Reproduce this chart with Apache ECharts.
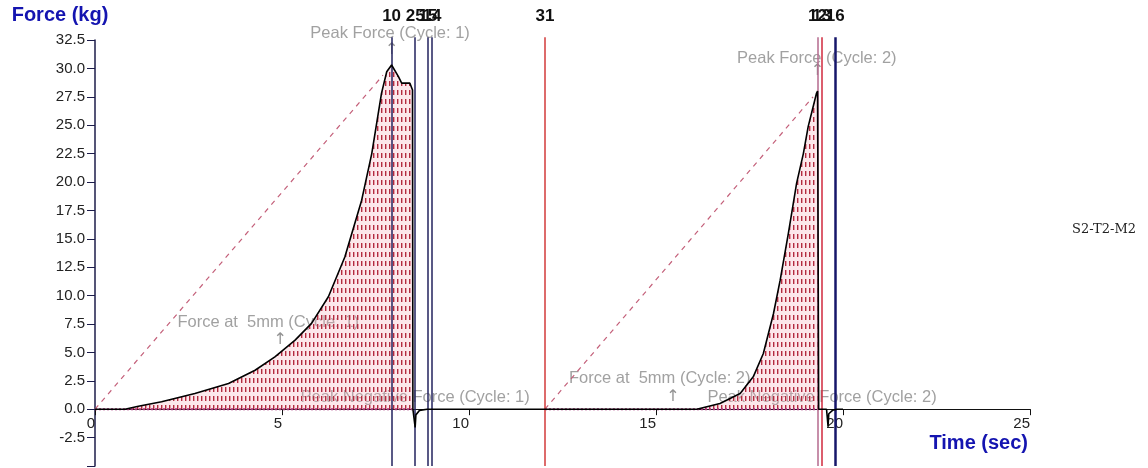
<!DOCTYPE html>
<html>
<head>
<meta charset="utf-8">
<script src="https://cdn.jsdelivr.net/npm/echarts@6/dist/echarts.min.js"></script>
<style>
  html, body { margin: 0; padding: 0; background: #ffffff; }
  #chart { width: 1148px; height: 468px; }
</style>
</head>
<body>
<div id="chart"></div>
<script>
// Texture analyser trace: force (kg) against time (sec), two compression cycles
const timeSec = [0, 0.8, 1.16, 1.78, 2.67, 3.57, 4.28, 4.81, 5.35, 5.79, 6.24, 6.68, 7.13, 7.40, 7.66, 7.80, 7.93, 8.11, 8.20, 8.42, 8.49, 8.50, 8.52, 8.56, 8.58, 8.68, 8.88,
  12.03, 16.09, 16.71, 17.25, 17.60, 17.87, 18.14, 18.32, 18.54, 18.76, 18.94, 19.07, 19.20, 19.29, 19.32, 19.35, 19.56, 19.60, 19.62, 19.72, 19.84, 20.0];
const forceKg = [0, 0, 0.26, 0.65, 1.38, 2.26, 3.43, 4.6, 6.08, 7.55, 9.9, 13.4, 18.4, 22.5, 27.8, 29.7, 30.3, 29.3, 28.7, 28.7, 28.1, 0, 0, -1.6, -0.5, -0.1, 0,
  0, 0, 0.5, 1.38, 2.85, 4.9, 8.4, 11.36, 15.5, 19.9, 22.5, 24.9, 26.6, 27.8, 28.0, 0, 0, -1.5, -0.4, -0.1, 0, 0];

// shaded work areas (start, end) per cycle
const cycleStart = [0, 12.03];
const cycleEnd = [8.50, 19.35];

// dashed gradient lines, origin to peak
const gradTime = [[0, 7.70], [12.03, 19.20]];
const gradForce = [[0, 29.4], [0, 27.5]];

// vertical event markers
const markerTime = [7.93, 8.56, 8.90, 9.01, 12.03, 19.32, 19.43, 19.79];
const markerText = ['10', '25', '15', '14', '31', '12', '13', '16'];
const markerColor = ['#22225e', '#22225e', '#22225e', '#22225e', '#d23a3a', '#b56a8e', '#d0283c', '#16166a'];
const markerWidth = [1.5, 1.5, 1.5, 1.5, 1.5, 1.5, 1.5, 2.5];

// annotations
const annoText = ['Peak Force (Cycle: 1)', 'Force at  5mm (Cycle: 1)', 'Peak Negative Force (Cycle: 1)',
  'Peak Force (Cycle: 2)', 'Force at  5mm (Cycle: 2)', 'Peak Negative Force (Cycle: 2)'];
const annoTime = [7.89, 4.63, 8.56, 19.30, 15.10, 19.44];
const annoForce = [33.1, 7.66, 1.06, 30.9, 2.73, 1.06];
const arrowTime = [7.93, 4.95, 19.32, 15.45];
const arrowForce = [31.6, 6.08, 29.8, 1.06];

const yRange = [-5, 32.5];
const xRange = [0, 25];

const curve = timeSec.map((t, i) => [t, forceKg[i]]);

function cyclePoints(k) {
  return curve.filter(p => p[0] >= cycleStart[k] && p[0] <= cycleEnd[k] && p[1] >= 0);
}

function hatchPattern() {
  const c = document.createElement('canvas');
  c.width = 4; c.height = 9;
  const g = c.getContext('2d');
  g.fillStyle = 'rgba(245,170,182,0.28)';
  g.fillRect(0, 0, 4, 9);
  g.fillStyle = '#e49aa6';
  g.fillRect(2, 0, 1, 5);
  g.fillStyle = '#b02c40';
  g.fillRect(1, 0, 1, 5);
  return c;
}
const hatch = { image: hatchPattern(), repeat: 'repeat' };

const baseline = [];
cycleStart.forEach((s, k) => {
  if (k > 0) baseline.push([(cycleEnd[k - 1] + s) / 2, '-']);
  baseline.push([s, 0], [cycleEnd[k], 0]);
});

const gradData = [];
gradTime.forEach((ts, k) => {
  if (k > 0) gradData.push([(gradTime[k - 1][1] + ts[0]) / 2, '-']);
  ts.forEach((t, j) => gradData.push([t, gradForce[k][j]]));
});

const font = 'Liberation Sans, Arial, sans-serif';
const plainGrid = { left: 95, right: 118, containLabel: false, outerBoundsMode: 'none' };

const chart = echarts.init(document.getElementById('chart'), null, { renderer: 'canvas' });
chart.setOption({
  animation: false,
  backgroundColor: '#ffffff',
  grid: [
    // 0: force axis, -5 .. 32.5
    Object.assign({ top: 40, bottom: 2 }, plainGrid),
    // 1: markers and notes, -5 .. 35 on the same scale
    Object.assign({ top: 11.6, bottom: 2 }, plainGrid),
    // 2: time axis sitting on zero force
    Object.assign({ top: 40, bottom: 58.8 }, plainGrid)
  ],
  legend: {
    data: [{ name: 'S2-T2-M2', icon: 'none' }],
    left: 1062, top: 218, itemWidth: 0, itemGap: 0,
    selectedMode: false,
    textStyle: { fontFamily: 'DejaVu Serif, serif', fontSize: 13, color: '#222' }
  },
  xAxis: [
    { type: 'value', gridIndex: 0, min: xRange[0], max: xRange[1], show: false },
    { type: 'value', gridIndex: 1, min: xRange[0], max: xRange[1], show: false },
    {
      type: 'value', gridIndex: 2, min: xRange[0], max: xRange[1], interval: 5, position: 'bottom',
      axisLine: { onZero: false, lineStyle: { color: '#111', width: 1.2 } },
      axisTick: { length: 6, lineStyle: { color: '#111' } },
      splitLine: { show: false },
      axisLabel: { align: 'right', margin: 7, color: '#222', fontSize: 15, fontFamily: font },
      name: 'Time (sec)', nameLocation: 'end', nameGap: -2, nameMoveOverlap: false,
      nameTextStyle: { align: 'right', verticalAlign: 'top', padding: [24, 0, 0, 0], color: '#1414b0', fontWeight: 'bold', fontSize: 20, fontFamily: font }
    }
  ],
  yAxis: [
    {
      type: 'value', gridIndex: 0, min: yRange[0], max: yRange[1], interval: 2.5,
      axisLine: { show: true, onZero: false, lineStyle: { color: '#1c1c4a', width: 1.5 } },
      axisTick: { show: true, length: 8, lineStyle: { color: '#1c1c4a' } },
      splitLine: { show: false },
      axisLabel: {
        margin: 10, color: '#222', fontSize: 15, fontFamily: font,
        formatter: v => (v <= yRange[0] ? '' : v.toFixed(1))
      },
      name: 'Force (kg)', nameLocation: 'end', nameGap: 15, nameMoveOverlap: false,
      nameTextStyle: { align: 'center', padding: [0, 70, 0, 0], color: '#1414b0', fontWeight: 'bold', fontSize: 20, fontFamily: font }
    },
    { type: 'value', gridIndex: 1, min: -5, max: 35, show: false },
    { type: 'value', gridIndex: 2, min: 0, max: yRange[1], show: false }
  ],
  series: [
    {
      type: 'line', name: 'area1', data: cyclePoints(0), showSymbol: false, z: 3,
      lineStyle: { width: 0 }, areaStyle: { color: hatch, opacity: 1 }
    },
    {
      type: 'line', name: 'area2', data: cyclePoints(1), showSymbol: false, z: 3,
      lineStyle: { width: 0 }, areaStyle: { color: hatch, opacity: 1 }
    },
    {
      type: 'line', name: 'baseline', data: baseline, showSymbol: false, z: 4,
      lineStyle: { color: '#a8307a', width: 2, type: [2, 2] }
    },
    {
      type: 'line', name: 'gradient', data: gradData, showSymbol: false, z: 4,
      lineStyle: { color: '#c4607a', width: 1.2, type: [5, 5] }
    },
    {
      type: 'line', name: 'S2-T2-M2', data: curve, showSymbol: false, z: 5,
      color: '#000', lineStyle: { color: '#000', width: 1.6 }
    },
    {
      type: 'scatter', name: 'annotations', xAxisIndex: 1, yAxisIndex: 1, z: 1, silent: true,
      symbolSize: 0,
      data: annoText.map((s, i) => ({ name: s, value: [annoTime[i], annoForce[i]] })),
      label: { show: true, position: 'inside', formatter: p => p.name, color: '#8a8a8a', fontSize: 16.5, fontFamily: font }
    },
    {
      type: 'scatter', name: 'arrows', xAxisIndex: 1, yAxisIndex: 1, z: 1, silent: true,
      symbolSize: 0,
      data: arrowTime.map((t, i) => [t, arrowForce[i]]),
      label: { show: true, position: 'inside', formatter: '\u2191', color: '#777', fontSize: 16, fontFamily: 'DejaVu Sans, sans-serif' }
    },
    {
      type: 'scatter', name: 'markers', xAxisIndex: 1, yAxisIndex: 1, z: 6, silent: true,
      data: [],
      markLine: {
        silent: true, symbol: 'none', animation: false,
        data: markerTime.map((t, i) => [
          { coord: [t, -5], lineStyle: { color: markerColor[i], width: markerWidth[i], type: 'solid' } },
          { coord: [t, 32.75], label: { show: true, position: 'end', distance: 12, formatter: markerText[i], color: '#111', fontWeight: 'bold', fontSize: 17, fontFamily: font } }
        ])
      }
    }
  ]
});
</script>
</body>
</html>
